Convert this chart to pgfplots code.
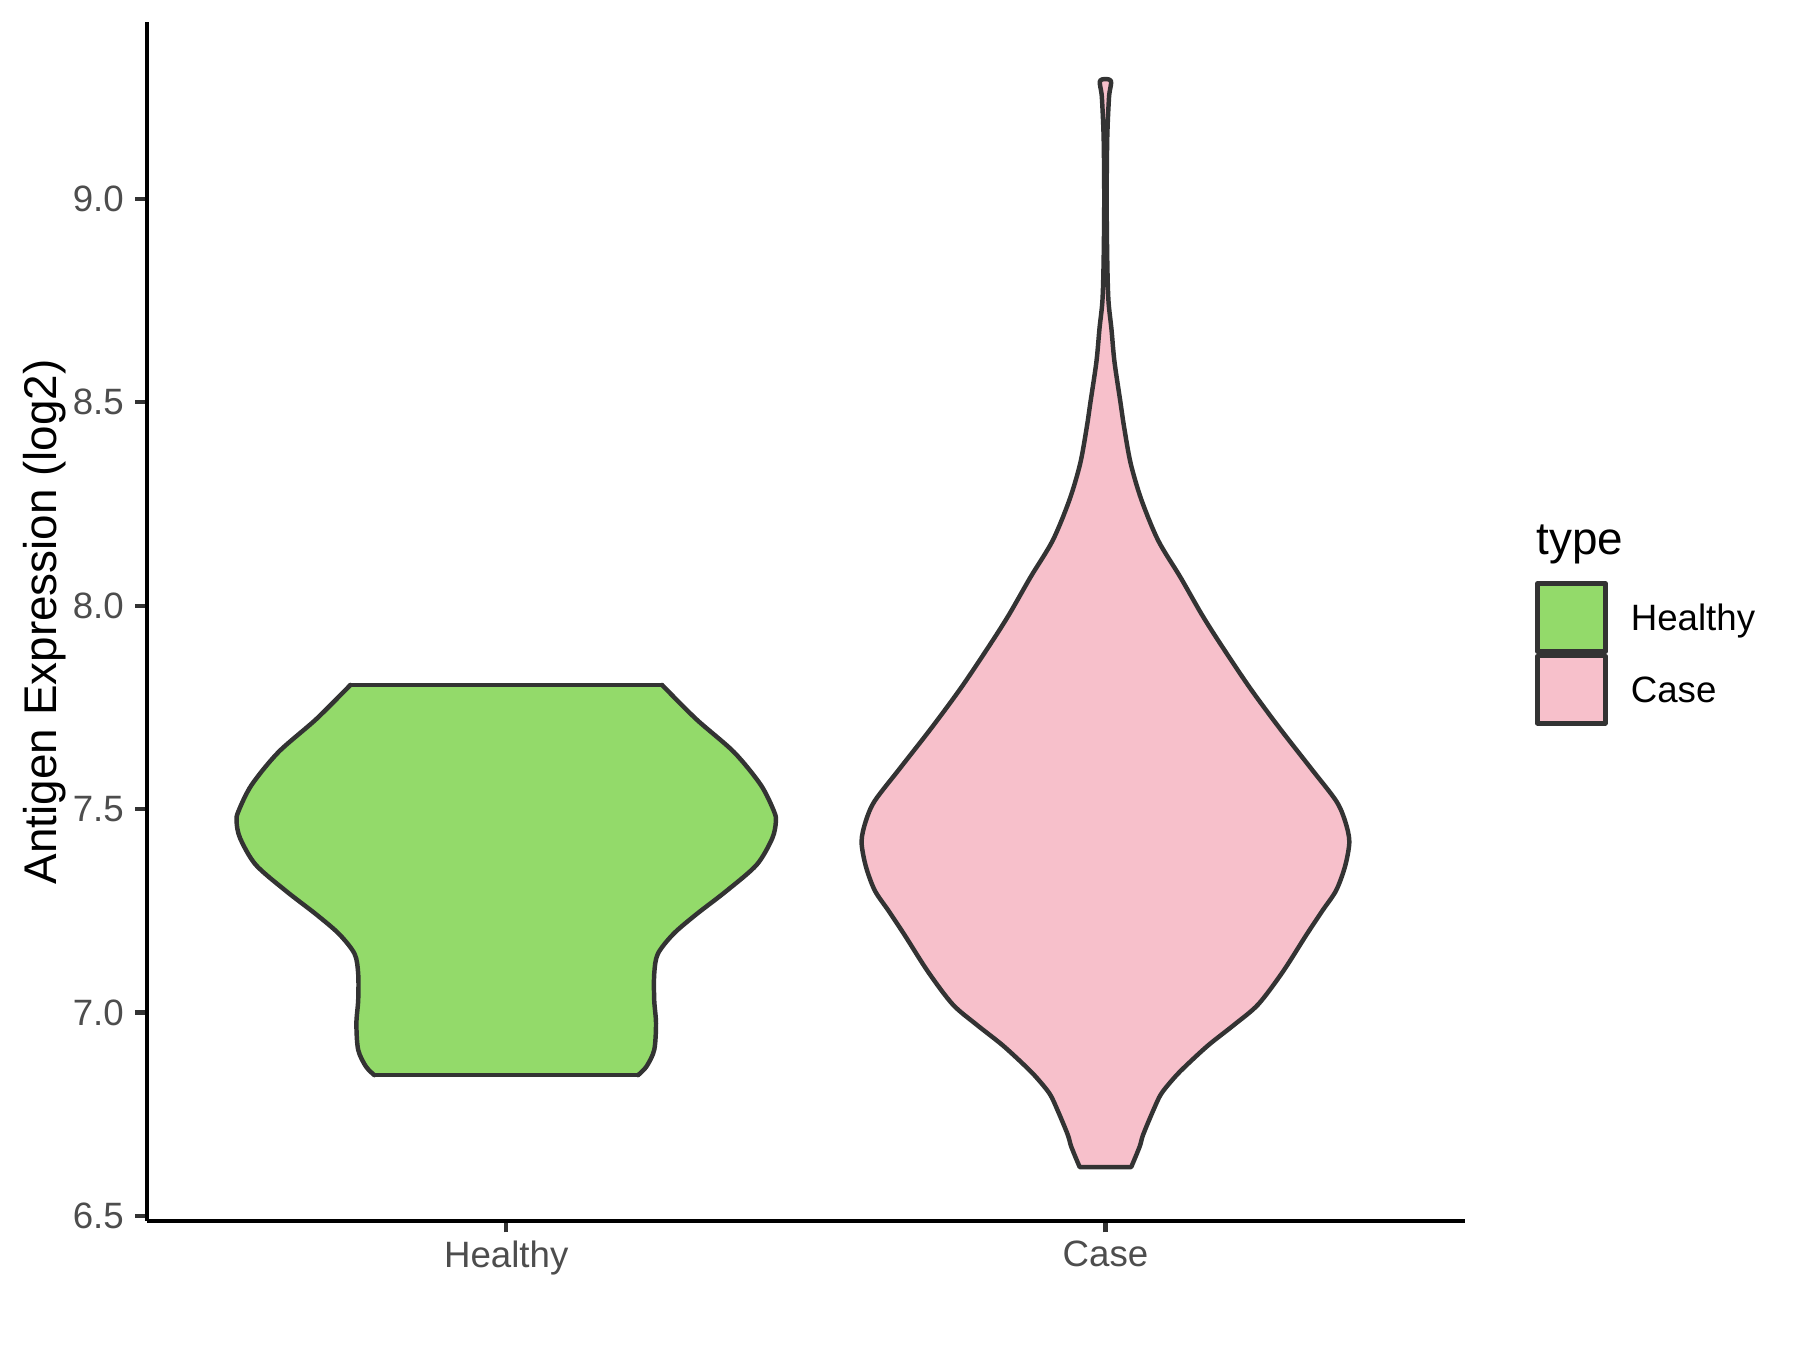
\documentclass[border=0pt]{standalone}
\usepackage{fontspec}
\setmainfont{Liberation Sans}
\usepackage{pgfplots}
\pgfplotsset{compat=1.18}
\definecolor{vgreen}{RGB}{147,218,106}
\definecolor{vpink}{RGB}{247,192,203}
\definecolor{outl}{RGB}{51,51,51}
\definecolor{gray30}{RGB}{77,77,77}
\begin{document}
\begin{tikzpicture}[x=1pt,y=1pt]
\useasboundingbox (0,0) rectangle (432,324);
\begin{axis}[
  at={(35.2pt,31.0pt)}, anchor=south west,
  scale only axis, width=316.4pt, height=287.6pt,
  xmin=0.4, xmax=2.6, ymin=6.488, ymax=9.433,
  axis lines=left,
  axis line style={-, line width=1pt, black},
  xtick={1,2}, xticklabels={Healthy,Case},
  ytick={6.5,7,7.5,8,8.5,9}, yticklabels={6.5,7.0,7.5,8.0,8.5,9.0},
  tick align=outside, major tick length=2.75pt,
  tick style={line width=1pt, outl},
  ticklabel style={font=\fontsize{8.8}{10}\selectfont, text=gray30},
  xticklabel style={yshift=1.4pt},
  yticklabel style={xshift=0.8pt},
  ylabel={Antigen Expression (log2)},
  every axis y label/.style={at={([xshift=-24.4pt]rel axis cs:0,0.5)}, rotate=90, anchor=center, font=\fontsize{11}{13}\selectfont},
  clip=false,
  vl/.style={draw=outl, line width=1.07pt, line join=round, line cap=round},
]
% Healthy: fill, then outline (smooth sides, straight top and bottom)
\addplot[fill=vgreen, draw=none] coordinates {
(1.260,7.805) (1.317,7.721) (1.380,7.640) (1.425,7.559) (1.447,7.494) (1.450,7.469)
(1.444,7.428) (1.418,7.363) (1.367,7.298) (1.317,7.241) (1.279,7.193) (1.253,7.144)
(1.247,7.095) (1.247,7.030) (1.250,6.973) (1.247,6.908) (1.234,6.867) (1.220,6.846)
(0.780,6.846) (0.766,6.867) (0.753,6.908) (0.750,6.973) (0.753,7.030) (0.753,7.095)
(0.747,7.144) (0.721,7.193) (0.683,7.241) (0.633,7.298) (0.582,7.363) (0.556,7.428)
(0.550,7.469) (0.553,7.494) (0.575,7.559) (0.620,7.640) (0.683,7.721) (0.740,7.805)
} -- cycle;
\addplot[vl, smooth, tension=0.5] coordinates {
(1.260,7.805) (1.317,7.721) (1.380,7.640) (1.425,7.559) (1.447,7.494) (1.450,7.469)
(1.444,7.428) (1.418,7.363) (1.367,7.298) (1.317,7.241) (1.279,7.193) (1.253,7.144)
(1.247,7.095) (1.247,7.030) (1.250,6.973) (1.247,6.908) (1.234,6.867) (1.220,6.846)
};
\addplot[vl, smooth, tension=0.5] coordinates {
(0.780,6.846) (0.766,6.867) (0.753,6.908) (0.750,6.973) (0.753,7.030) (0.753,7.095)
(0.747,7.144) (0.721,7.193) (0.683,7.241) (0.633,7.298) (0.582,7.363) (0.556,7.428)
(0.550,7.469) (0.553,7.494) (0.575,7.559) (0.620,7.640) (0.683,7.721) (0.740,7.805)
};
\addplot[vl] coordinates {(0.740,7.805) (1.260,7.805)};
\addplot[vl] coordinates {(0.780,6.846) (1.220,6.846)};
% Case: one smooth path from the bottom right corner, closed along the bottom
\addplot[smooth, tension=0.5, fill=vpink, draw=outl, line width=1.07pt, line join=round] coordinates {
(2.043,6.62) (2.057,6.67) (2.063,6.70) (2.080,6.76) (2.093,6.80) (2.115,6.84)
(2.135,6.87) (2.172,6.92) (2.215,6.97) (2.255,7.02) (2.296,7.10) (2.335,7.19)
(2.362,7.25) (2.385,7.30) (2.400,7.36) (2.407,7.42) (2.400,7.47) (2.385,7.52)
(2.343,7.60) (2.290,7.70) (2.240,7.80) (2.190,7.91) (2.160,7.98) (2.125,8.07)
(2.088,8.16) (2.060,8.26) (2.042,8.35) (2.031,8.44) (2.025,8.50) (2.015,8.60)
(2.010,8.68) (2.005,8.75) (2.003,8.85) (2.002,9.00) (2.003,9.15) (2.006,9.25)
(2.009,9.29)
(1.991,9.29) (1.994,9.25) (1.997,9.15) (1.998,9.00) (1.997,8.85) (1.995,8.75)
(1.990,8.68) (1.985,8.60) (1.975,8.50) (1.969,8.44) (1.958,8.35) (1.940,8.26)
(1.912,8.16) (1.875,8.07) (1.840,7.98) (1.810,7.91) (1.760,7.80) (1.710,7.70)
(1.657,7.60) (1.615,7.52) (1.600,7.47) (1.593,7.42) (1.600,7.36) (1.615,7.30)
(1.638,7.25) (1.665,7.19) (1.704,7.10) (1.745,7.02) (1.785,6.97) (1.828,6.92)
(1.865,6.87) (1.885,6.84) (1.907,6.80) (1.920,6.76) (1.937,6.70) (1.943,6.67)
(1.957,6.62)
} -- cycle;
\end{axis}
\node[anchor=base west, inner sep=0pt, font=\fontsize{11}{13}\selectfont] at (368.6,190.8) {type};
\draw[outl, line width=1.07pt, fill=vgreen, line join=round] (369.0,167.6) rectangle (385.3,184.0);
\draw[outl, line width=1.07pt, fill=vpink, line join=round] (369.0,150.4) rectangle (385.3,166.6);
\node[anchor=base west, inner sep=0pt, font=\fontsize{8.8}{10}\selectfont] at (391.2,172.6) {Healthy};
\node[anchor=base west, inner sep=0pt, font=\fontsize{8.8}{10}\selectfont] at (391.2,155.3) {Case};
\end{tikzpicture}
\end{document}
